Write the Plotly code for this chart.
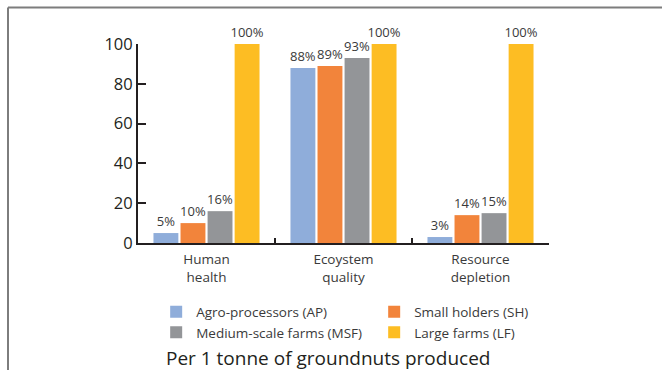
import plotly.graph_objects as go

# Impact categories shown along the x axis
categories = ["Human<br>health", "Ecoystem<br>quality", "Resource<br>depletion"]

# Relative impact (%) per farm type, per 1 tonne of groundnuts
series_names = ["Agro-processors (AP)", "Small holders (SH)",
                "Medium-scale farms (MSF)", "Large farms (LF)"]
agro_processors = [5, 88, 3]
small_holders = [10, 89, 14]
medium_scale = [16, 93, 15]
large_farms = [100, 100, 100]

y_ticks = [0, 20, 40, 60, 80, 100]

colors = ["#8FADDA", "#F2843B", "#939598", "#FDBD23"]
values = [agro_processors, small_holders, medium_scale, large_farms]

FONT = "Open Sans"
TEXT_COLOR = "#3a3a3a"

fig = go.Figure()
for name, vals, col in zip(series_names, values, colors):
    fig.add_trace(go.Bar(
        x=categories, y=vals, name=name,
        marker=dict(color=col, line=dict(width=0)),
        text=[f"{v}%" for v in vals],
        textposition="outside",
        textfont=dict(family=FONT, size=13, color=TEXT_COLOR),
        constraintext="none",
        cliponaxis=False,
    ))

# plot area spans x 138..549 px, y 44..243 px
L, R, T, B = 138, 113, 44, 127
W, H = 662, 370
pw, ph = W - L - R, H - T - B


def px_x(px):
    return (px - L) / pw


def px_y(py):
    return (H - B - py) / ph


fig.update_layout(
    width=W, height=H,
    margin=dict(l=L, r=R, t=T, b=B, pad=0, autoexpand=False),
    paper_bgcolor="white", plot_bgcolor="white",
    barmode="group", bargap=0.21, bargroupgap=0.08,
    font=dict(family=FONT, color=TEXT_COLOR),
    showlegend=True,
    legend=dict(
        orientation="h", x=-0.002, y=px_y(296.5), xanchor="left", yanchor="top",
        entrywidth=154, entrywidthmode="pixels", indentation=19,
        font=dict(family=FONT, size=13.5, color=TEXT_COLOR),
        itemwidth=30, tracegroupgap=0, bgcolor="rgba(0,0,0,0)",
    ),
    shapes=[
        dict(type="line", xref="paper", yref="paper",
             x0=px_x(8), x1=px_x(662), y0=px_y(7.5), y1=px_y(7.5),
             line=dict(color="#7d7d7d", width=2)),
        dict(type="line", xref="paper", yref="paper",
             x0=px_x(8), x1=px_x(8), y0=px_y(7.5), y1=px_y(371),
             line=dict(color="#7d7d7d", width=2)),
    ],
    annotations=[
        dict(text="Per 1 tonne of groundnuts produced", xref="paper", yref="paper",
             x=px_x(328), y=px_y(358), xanchor="center", yanchor="middle",
             showarrow=False, font=dict(family=FONT, size=19, color="#231F20")),
    ],
)

fig.update_yaxes(
    range=[0, 100], tickvals=y_ticks, ticks="inside", ticklen=8, tickwidth=2,
    tickcolor="#231F20", showline=True, linecolor="#231F20", linewidth=2,
    showgrid=False, zeroline=False,
    tickfont=dict(family=FONT, size=16.5, color="#231F20"),
)
fig.update_xaxes(
    ticks="inside", tickson="boundaries", ticklen=5, tickwidth=1.5,
    tickcolor="#231F20", showline=True, linecolor="#231F20", linewidth=2,
    showgrid=False, ticklabelstandoff=3,
    tickfont=dict(family=FONT, size=13.5, color=TEXT_COLOR),
)

fig.write_html("out.html")
